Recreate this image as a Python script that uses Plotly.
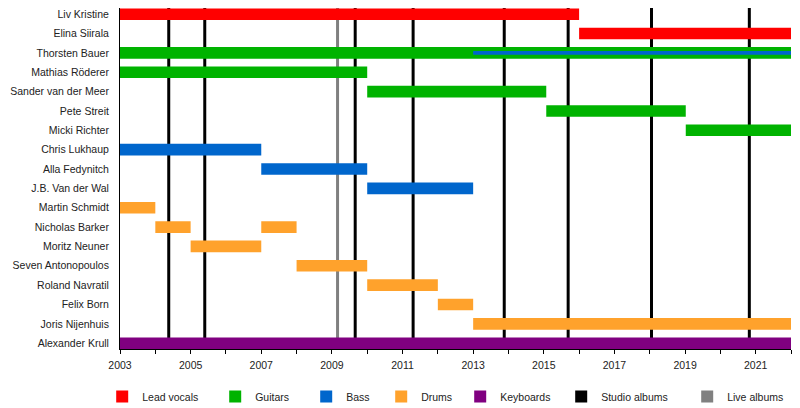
import plotly.graph_objects as go

members = ["Liv Kristine", "Elina Siirala", "Thorsten Bauer", "Mathias Röderer",
           "Sander van der Meer", "Pete Streit", "Micki Richter", "Chris Lukhaup",
           "Alla Fedynitch", "J.B. Van der Wal", "Martin Schmidt", "Nicholas Barker",
           "Moritz Neuner", "Seven Antonopoulos", "Roland Navratil", "Felix Born",
           "Joris Nijenhuis", "Alexander Krull"]

vocals_who = ["Liv Kristine", "Elina Siirala"]
vocals_start = [2003.0, 2016.0]
vocals_end = [2016.0, 2022.0]

guitars_who = ["Thorsten Bauer", "Mathias Röderer", "Sander van der Meer", "Pete Streit", "Micki Richter"]
guitars_start = [2003.0, 2003.0, 2010.0, 2015.07, 2019.02]
guitars_end = [2022.0, 2010.0, 2015.07, 2019.02, 2022.0]

bass_who = ["Chris Lukhaup", "Alla Fedynitch", "J.B. Van der Wal"]
bass_start = [2003.0, 2007.0, 2010.0]
bass_end = [2007.0, 2010.0, 2013.0]

bass_extra_who = ["Thorsten Bauer"]
bass_extra_start = [2013.0]
bass_extra_end = [2022.0]

drums_who = ["Martin Schmidt", "Nicholas Barker", "Moritz Neuner", "Nicholas Barker",
             "Seven Antonopoulos", "Roland Navratil", "Felix Born", "Joris Nijenhuis"]
drums_start = [2003.0, 2004.0, 2005.0, 2007.0, 2008.0, 2010.0, 2012.0, 2013.0]
drums_end = [2004.0, 2005.0, 2007.0, 2008.0, 2010.0, 2012.0, 2013.0, 2022.0]

keys_who = ["Alexander Krull"]
keys_start = [2003.0]
keys_end = [2022.0]

studio_albums = [2004.38, 2005.40, 2009.66, 2011.30, 2013.88, 2015.69, 2018.05, 2020.82]
live_albums = [2009.16]

year_ticks = [2003, 2005, 2007, 2009, 2011, 2013, 2015, 2017, 2019, 2021]

C_VOC = "#ff0000"
C_GTR = "#00b300"
C_BASS = "#0066cc"
C_DRUM = "#ffa22c"
C_KEYS = "#800080"
C_STUDIO = "#000000"
C_LIVE = "#808080"

FONT = "Liberation Sans, Arial, sans-serif"
FS = 10.5

fig = go.Figure()

def add_role(name, who, start, end, color, legend, width=0.6, showlegend=True):
    fig.add_trace(go.Bar(
        name=name, orientation="h", y=who,
        x=[e - s for s, e in zip(start, end)], base=start,
        marker=dict(color=color, line=dict(width=0)),
        width=width, showlegend=showlegend, legend=legend,
        hoverinfo="skip"))

add_role("Lead vocals", vocals_who, vocals_start, vocals_end, C_VOC, "legend")
add_role("Guitars", guitars_who, guitars_start, guitars_end, C_GTR, "legend2")
add_role("Bass", bass_who, bass_start, bass_end, C_BASS, "legend3")
add_role("Bass", bass_extra_who, bass_extra_start, bass_extra_end, C_BASS, "legend3",
         width=0.19, showlegend=False)
add_role("Drums", drums_who, drums_start, drums_end, C_DRUM, "legend4")
add_role("Keyboards", keys_who, keys_start, keys_end, C_KEYS, "legend5")

for nm, col, lg in [("Studio albums", C_STUDIO, "legend6"), ("Live albums", C_LIVE, "legend7")]:
    fig.add_trace(go.Bar(name=nm, orientation="h", y=[None], x=[None],
                         marker=dict(color=col, line=dict(width=0)),
                         showlegend=True, legend=lg, hoverinfo="skip"))

for xv in studio_albums:
    fig.add_shape(type="line", xref="x", yref="paper", x0=xv, x1=xv, y0=0, y1=1,
                  line=dict(color=C_STUDIO, width=3), layer="below")
for xv in live_albums:
    fig.add_shape(type="line", xref="x", yref="paper", x0=xv, x1=xv, y0=0, y1=1,
                  line=dict(color=C_LIVE, width=3), layer="below")

# page body has an 8px margin; size the figure so it fits the 800x408 window
PAGE_OFF = 8
W, H = 800 - 2 * PAGE_OFF, 408 - PAGE_OFF
L, R, T, B = 112, 1, 0, 59
pw = W - L - R
ph = H - T - B

# legend square left positions (page pixels) in the reference
legend_sq_left = [118, 231, 322, 397, 476, 577, 703]
sym_off = 14  # plotly legend symbol left offset from legend box left
legend_y = -((396.5 - PAGE_OFF) - (H - B)) / ph

layout_legends = {}
names = ["legend", "legend2", "legend3", "legend4", "legend5", "legend6", "legend7"]
for nm, px in zip(names, legend_sq_left):
    left = px - PAGE_OFF - 1.8 - sym_off
    layout_legends[nm] = dict(
        x=(left - L) / pw, xanchor="left", y=legend_y, yanchor="middle",
        orientation="h", bgcolor="rgba(0,0,0,0)", borderwidth=0,
        font=dict(family=FONT, size=FS, color="#222222"))

fig.update_layout(
    width=W, height=H,
    margin=dict(l=L, r=R, t=T, b=B, autoexpand=False),
    barmode="overlay",
    plot_bgcolor="white", paper_bgcolor="white",
    font=dict(family=FONT, size=FS, color="#222222"),
    xaxis=dict(range=[2003, 2022], tickvals=year_ticks, ticktext=[str(v) for v in year_ticks],
               ticks="outside", ticklen=4, tickcolor="black", tickwidth=1,
               minor=dict(dtick=1, tick0=2003, ticks="outside", ticklen=4, tickcolor="black"),
               showline=True, linecolor="black", linewidth=1, showgrid=False, zeroline=False,
               automargin=False, ticklabelstandoff=2,
               tickfont=dict(family=FONT, size=FS, color="#222222")),
    yaxis=dict(type="category", categoryorder="array", categoryarray=members,
               range=[17.3, -0.32], showline=True, linecolor="black", linewidth=1,
               showgrid=False, zeroline=False, ticks="", ticklabelstandoff=8,
               automargin=False,
               tickfont=dict(family=FONT, size=FS, color="#222222")),
    **layout_legends,
)

fig.write_html("out.html")
